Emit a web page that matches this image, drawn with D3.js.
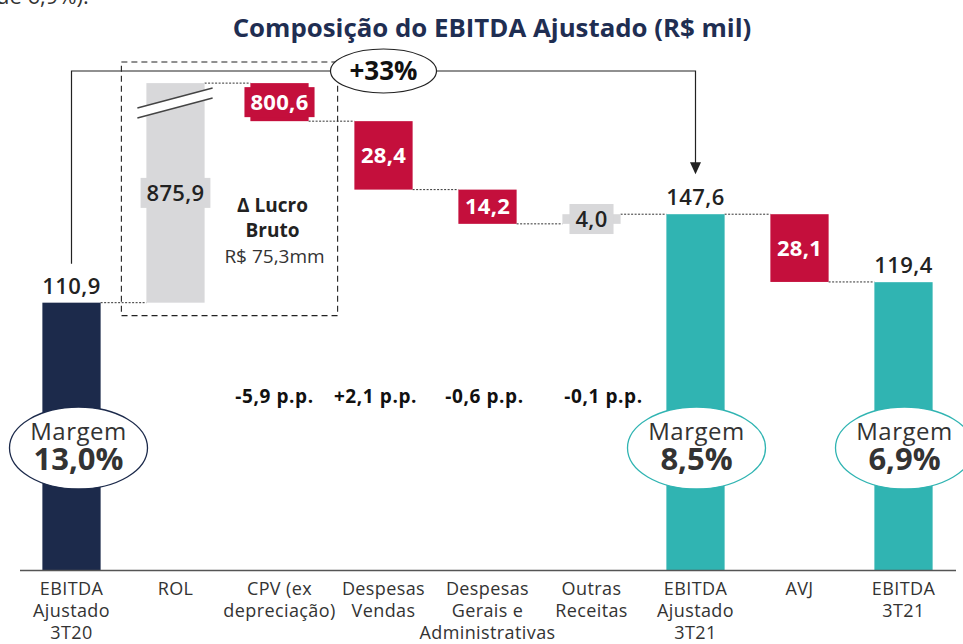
<!DOCTYPE html>
<html>
<head>
<meta charset="utf-8">
<script src="https://cdn.jsdelivr.net/npm/d3@7/dist/d3.min.js"></script>
<style>
  html, body { margin: 0; padding: 0; background: #fff; }
  svg { display: block; font-family: "Open Sans", "Noto Sans", sans-serif; }
</style>
</head>
<body>
<svg id="chart" width="963" height="644"></svg>
<script>
// ---- data ----
var categories = ['EBITDA 3T20', 'ROL', 'CPV', 'Despesas Vendas', 'DGA', 'Outras Receitas', 'EBITDA Aj 3T21', 'AVJ', 'EBITDA 3T21'];
var catLabels = [
  ['EBITDA', 'Ajustado', '3T20'],
  ['ROL'],
  ['CPV (ex', 'depreciação)'],
  ['Despesas', 'Vendas'],
  ['Despesas', 'Gerais e', 'Administrativas'],
  ['Outras', 'Receitas'],
  ['EBITDA', 'Ajustado', '3T21'],
  ['AVJ'],
  ['EBITDA', '3T21']
];
var values = [110.9, 875.9, -800.6, -28.4, -14.2, 4.0, 147.6, -28.1, 119.4];
var isTotal = [true, false, false, false, false, false, true, false, true];
var valueLabels = ['110,9', '875,9', '800,6', '28,4', '14,2', '4,0', '147,6', '28,1', '119,4'];
var marginCats = ['EBITDA 3T20', 'EBITDA Aj 3T21', 'EBITDA 3T21'];
var marginValues = ['13,0%', '8,5%', '6,9%'];
var ppCats = ['CPV', 'Despesas Vendas', 'DGA', 'Outras Receitas'];
var ppLabels = ['-5,9 p.p.', '+2,1 p.p.', '-0,6 p.p.', '-0,1 p.p.'];
var growthLabel = '+33%';
var lucroLines = ['\u0394 Lucro', 'Bruto', 'R$ 75,3mm'];
var title = 'Composição do EBITDA Ajustado (R$ mil)';

// ---- colours ----
var NAVY = '#1c2a4b', TEAL = '#30b4b2', RED = '#c40f3c', GRAY = '#d8d8da', INK = '#222';

var svg = d3.select('#chart');

// waterfall start / end
var rows = [];
var run = 0;
values.forEach(function(v, i) {
  var r = { key: categories[i], total: isTotal[i], label: valueLabels[i] };
  if (isTotal[i]) { r.start = 0; r.end = v; run = v; }
  else { r.start = run; r.end = run + v; run = r.end; }
  r.color = isTotal[i] ? (i === 0 ? NAVY : TEAL) : (v < 0 ? RED : GRAY);
  rows.push(r);
});

// scales (broken axis above 190)
var x = d3.scaleBand().domain(categories).range([19.5, 955.5]).paddingInner(0.44).paddingOuter(0.22);
var y = d3.scaleLinear().domain([0, 190, 990]).range([570, 112, 83]);
var bw = x.bandwidth();
function cx(k) { return x(k) + bw / 2; }

// title + cropped line on top
svg.append('text').attr('x', -4).attr('y', 4).attr('font-size', 22).attr('fill', '#333')
  .text('de 6,9%).');
var t = svg.append('text').attr('x', 492).attr('y', 37).attr('text-anchor', 'middle')
  .attr('font-size', 24).attr('font-weight', 700).attr('fill', '#1f2e52').text(title);
var tw = t.node().getComputedTextLength();
t.attr('font-size', 24 * 519 / tw);

// dashed box around lucro bruto
var boxL = x('ROL') - 25, boxR = x('CPV') + bw + 29;
svg.append('rect').attr('x', boxL).attr('y', 62).attr('width', boxR - boxL)
  .attr('height', y(110.9) + 13 - 62)
  .attr('fill', 'none').attr('stroke', '#222').attr('stroke-width', 1.1).attr('stroke-dasharray', '6,4');

// connectors
for (var i = 0; i < rows.length - 1; i++) {
  svg.append('line')
    .attr('x1', x(rows[i].key) + bw).attr('x2', x(rows[i + 1].key))
    .attr('y1', y(rows[i].end)).attr('y2', y(rows[i].end))
    .attr('stroke', '#333').attr('stroke-width', 1).attr('stroke-dasharray', '2,1.5');
}

// bars
svg.selectAll('rect.bar').data(rows).enter().append('rect')
  .attr('class', 'bar')
  .attr('x', function(d) { return x(d.key); })
  .attr('y', function(d) { return y(Math.max(d.start, d.end)); })
  .attr('width', bw)
  .attr('height', function(d) { return Math.abs(y(d.start) - y(d.end)); })
  .attr('fill', function(d) { return d.color; });

// axis break on ROL bar
var bx0 = x('ROL') - 9, bx1 = x('ROL') + bw + 8, byc = 103;
svg.append('path')
  .attr('d', 'M' + bx0 + ',' + (byc + 5) + 'L' + bx1 + ',' + (byc - 15) + 'L' + bx1 + ',' + (byc - 5) + 'L' + bx0 + ',' + (byc + 15) + 'Z')
  .attr('fill', '#fff');
[0, 10].forEach(function(o) {
  svg.append('line').attr('x1', bx0).attr('y1', byc + 5 + o).attr('x2', bx1).attr('y2', byc - 15 + o)
    .attr('stroke', '#444').attr('stroke-width', 1.3);
});

// value labels
rows.forEach(function(d) {
  var c = cx(d.key);
  if (d.total) {
    svg.append('text').attr('x', c).attr('y', y(d.end) - 9).attr('text-anchor', 'middle')
      .attr('font-size', 22).attr('font-weight', 600).attr('letter-spacing', 0.4).attr('fill', INK).text(d.label);
    return;
  }
  var top = y(Math.max(d.start, d.end)), bot = y(Math.min(d.start, d.end));
  var mid = (top + bot) / 2;
  var g = svg.append('g');
  var txt = g.append('text').attr('x', c).attr('y', mid).attr('dy', '0.35em').attr('text-anchor', 'middle')
    .attr('font-size', 22).attr('font-weight', d.color === RED ? 700 : 600).attr('letter-spacing', 0.3)
    .attr('fill', d.color === RED ? '#fff' : INK).text(d.label);
  var w = txt.node().getComputedTextLength();
  if (w + 6 > bw || bot - top < 30) {
    g.insert('rect', 'text').attr('x', c - w / 2 - 6).attr('y', mid - 15)
      .attr('width', w + 12).attr('height', 30).attr('fill', d.color);
  }
});

// lucro bruto note
var lx = cx('CPV') - 7;
svg.append('text').attr('x', lx).attr('y', 212).attr('text-anchor', 'middle').attr('font-size', 19)
  .attr('font-weight', 700).attr('fill', INK).text(lucroLines[0]);
svg.append('text').attr('x', lx).attr('y', 237).attr('text-anchor', 'middle').attr('font-size', 19)
  .attr('font-weight', 700).attr('fill', INK).text(lucroLines[1]);
svg.append('text').attr('x', lx + 2).attr('y', 263).attr('text-anchor', 'middle').attr('font-size', 19)
  .attr('fill', '#333').text(lucroLines[2]);

// growth bracket
var gx0 = cx(categories[0]), gx1 = cx('EBITDA Aj 3T21'), gyTop = 71;
var gyStart = y(values[0]) - 39, gyEnd = y(values[6]) - 40;
svg.append('path')
  .attr('d', 'M' + gx0 + ',' + gyStart + 'V' + gyTop + 'H' + gx1 + 'V' + (gyEnd - 11))
  .attr('fill', 'none').attr('stroke', '#222').attr('stroke-width', 1.2);
svg.append('path')
  .attr('d', 'M' + (gx1 - 5.5) + ',' + (gyEnd - 12) + 'L' + (gx1 + 5.5) + ',' + (gyEnd - 12) + 'L' + gx1 + ',' + gyEnd + 'Z')
  .attr('fill', '#222');
var ex = cx('Despesas Vendas');
svg.append('ellipse').attr('cx', ex).attr('cy', gyTop).attr('rx', 53).attr('ry', 22)
  .attr('fill', '#fff').attr('stroke', '#222').attr('stroke-width', 1.2);
svg.append('text').attr('x', ex).attr('y', gyTop).attr('dy', '0.36em').attr('text-anchor', 'middle')
  .attr('font-size', 26).attr('font-weight', 700).attr('fill', '#111').text(growthLabel);

// p.p. labels
var ppShift = [-5, -8, -3, 12];
ppCats.forEach(function(k, i) {
  svg.append('text').attr('x', cx(k) + ppShift[i]).attr('y', 403).attr('text-anchor', 'middle')
    .attr('font-size', 19).attr('font-weight', 700).attr('letter-spacing', 0.6).attr('fill', '#111').text(ppLabels[i]);
});

// margin ellipses
marginCats.forEach(function(k, i) {
  var c = cx(k) + (i === 0 ? 7 : 1);
  svg.append('ellipse').attr('cx', c).attr('cy', 448).attr('rx', 69).attr('ry', 41)
    .attr('fill', '#fff').attr('stroke', i === 0 ? NAVY : TEAL).attr('stroke-width', 1.3);
  svg.append('text').attr('x', c).attr('y', 440).attr('text-anchor', 'middle')
    .attr('font-size', 24).attr('letter-spacing', 0.5).attr('fill', '#333').text('Margem');
  svg.append('text').attr('x', c).attr('y', 470).attr('text-anchor', 'middle')
    .attr('font-size', 31).attr('font-weight', 700).attr('fill', '#333').text(marginValues[i]);
});

// x axis
var axis = svg.append('g').attr('transform', 'translate(0,' + y(0) + ')')
  .call(d3.axisBottom(x).tickSize(0).tickFormat(''));
axis.select('.domain').attr('stroke', '#555').attr('stroke-width', 1.5);
categories.forEach(function(k, i) {
  var tt = svg.append('text').attr('x', cx(k)).attr('y', 595).attr('text-anchor', 'middle')
    .attr('font-size', 18).attr('letter-spacing', 0.4).attr('fill', '#333');
  catLabels[i].forEach(function(line, j) {
    tt.append('tspan').attr('x', cx(k)).attr('dy', j === 0 ? 0 : 22).text(line);
  });
});
</script>
</body>
</html>
